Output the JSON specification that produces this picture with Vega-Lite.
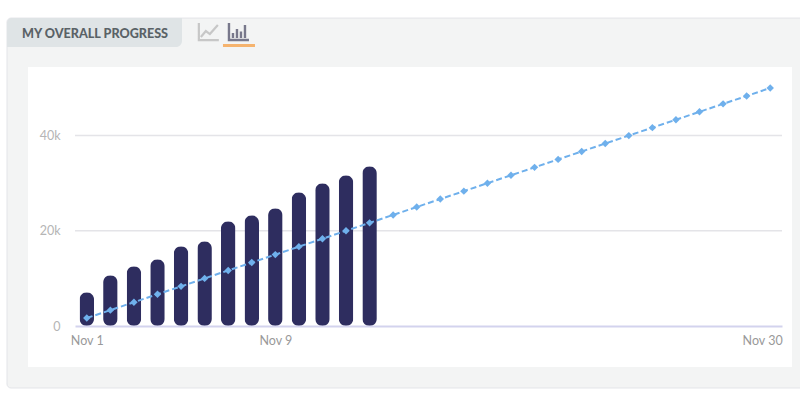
{
  "$schema": "https://vega.github.io/schema/vega-lite/v6.json",
  "width": 707,
  "height": 238,
  "padding": {"left": 75, "top": 88, "right": 18, "bottom": 74},
  "autosize": {"type": "none"},
  "background": "#ffffff",
  "config": {"view": {"stroke": null}, "font": "Lato", "scale": {"continuousPadding": 0}},
  "title": {
    "text": "MY OVERALL PROGRESS",
    "anchor": "start",
    "frame": "group",
    "dx": -53,
    "dy": 23,
    "offset": 0,
    "font": "Lato",
    "fontSize": 12.6,
    "fontWeight": 900,
    "color": "#5a6266"
  },
  "resolve": {"axis": {"x": "independent", "y": "independent"}},
  "data": {
    "values": [
      {"day": 1, "actual": 7080, "target": 1670},
      {"day": 2, "actual": 10650, "target": 3330},
      {"day": 3, "actual": 12540, "target": 5000},
      {"day": 4, "actual": 14010, "target": 6670},
      {"day": 5, "actual": 16740, "target": 8330},
      {"day": 6, "actual": 17790, "target": 10000},
      {"day": 7, "actual": 21990, "target": 11670},
      {"day": 8, "actual": 23250, "target": 13330},
      {"day": 9, "actual": 24720, "target": 15000},
      {"day": 10, "actual": 28080, "target": 16670},
      {"day": 11, "actual": 29970, "target": 18330},
      {"day": 12, "actual": 31650, "target": 20000},
      {"day": 13, "actual": 33540, "target": 21670},
      {"day": 14, "target": 23330},
      {"day": 15, "target": 25000},
      {"day": 16, "target": 26670},
      {"day": 17, "target": 28330},
      {"day": 18, "target": 30000},
      {"day": 19, "target": 31670},
      {"day": 20, "target": 33330},
      {"day": 21, "target": 35000},
      {"day": 22, "target": 36670},
      {"day": 23, "target": 38330},
      {"day": 24, "target": 40000},
      {"day": 25, "target": 41670},
      {"day": 26, "target": 43330},
      {"day": 27, "target": 45000},
      {"day": 28, "target": 46670},
      {"day": 29, "target": 48330},
      {"day": 30, "target": 50000}
    ]
  },
  "layer": [
    {
      "data": {"values": [{}]},
      "mark": {"type": "rect", "fill": "#f3f4f4", "stroke": "#e3e4e8", "strokeWidth": 1, "cornerRadius": 4},
      "encoding": {
        "x": {"datum": -2.385, "type": "quantitative", "scale": {"domain": [0.5, 30.5]}, "axis": null},
        "x2": {"datum": 31.8},
        "y": {"datum": 64690, "type": "quantitative", "scale": {"domain": [0, 50000]}, "axis": null},
        "y2": {"datum": -13022}
      }
    },
    {
      "data": {"values": [{}]},
      "mark": {"type": "rect", "fill": "#ffffff"},
      "encoding": {
        "x": {"datum": -1.494, "type": "quantitative", "scale": {"domain": [0.5, 30.5]}, "axis": null},
        "x2": {"datum": 30.924},
        "y": {"datum": 54398, "type": "quantitative", "scale": {"domain": [0, 50000]}, "axis": null},
        "y2": {"datum": -8611}
      }
    },
    {
      "data": {"values": [{}]},
      "mark": {"type": "rect", "fill": "#dfe4e6", "cornerRadiusTopLeft": 5, "cornerRadiusBottomRight": 6},
      "encoding": {
        "x": {"datum": -2.385, "type": "quantitative", "scale": {"domain": [0.5, 30.5]}, "axis": null},
        "x2": {"datum": 5.04},
        "y": {"datum": 64690, "type": "quantitative", "scale": {"domain": [0, 50000]}, "axis": null},
        "y2": {"datum": 58598}
      }
    },
    {
      "data": {"values": [{}]},
      "mark": {"type": "rect", "fill": "#f5b36e"},
      "encoding": {
        "x": {"datum": 6.779, "type": "quantitative", "scale": {"domain": [0.5, 30.5]}, "axis": null},
        "x2": {"datum": 8.137},
        "y": {"datum": 59228, "type": "quantitative", "scale": {"domain": [0, 50000]}, "axis": null},
        "y2": {"datum": 58598}
      }
    },
    {
      "data": {"values": [{}]},
      "mark": {
        "type": "point",
        "filled": false,
        "size": 400,
        "stroke": "#b5b5b5",
        "strokeWidth": 2.2,
        "shape": "M-1,-0.9 L-1,0.8 L1,0.8 M-0.8,0.5 L-0.3,-0.1 L0.1,0.2 L0.9,-0.7"
      },
      "encoding": {
        "x": {"datum": 6.18, "type": "quantitative", "scale": {"domain": [0.5, 30.5]}, "axis": null},
        "y": {"datum": 61749, "type": "quantitative", "scale": {"domain": [0, 50000]}, "axis": null}
      }
    },
    {
      "data": {"values": [{}]},
      "mark": {
        "type": "point",
        "filled": false,
        "size": 400,
        "stroke": "#45455f",
        "strokeWidth": 2.4,
        "shape": "M-1,-0.9 L-1,0.8 L1,0.8 M-0.6,0.6 L-0.6,0.1 M-0.2,0.6 L-0.2,-0.3 M0.2,0.6 L0.2,-0.05 M0.6,0.6 L0.6,-0.7"
      },
      "encoding": {
        "x": {"datum": 7.458, "type": "quantitative", "scale": {"domain": [0.5, 30.5]}, "axis": null},
        "y": {"datum": 61749, "type": "quantitative", "scale": {"domain": [0, 50000]}, "axis": null}
      }
    },
    {
      "data": {"values": [{"tick": 20000}, {"tick": 40000}]},
      "mark": {"type": "rule", "stroke": "#e4e4e8", "strokeWidth": 1.5},
      "encoding": {
        "x": {"datum": 0.5, "type": "quantitative", "scale": {"domain": [0.5, 30.5]}, "axis": null},
        "x2": {"datum": 30.5},
        "y": {"field": "tick", "type": "quantitative", "scale": {"domain": [0, 50000]}, "axis": null}
      }
    },
    {
      "mark": {"type": "bar", "size": 14.5, "cornerRadius": 7.25, "fill": "#2e2d5f"},
      "encoding": {
        "x": {
          "field": "day",
          "type": "quantitative",
          "scale": {"domain": [0.5, 30.5]},
          "axis": {
            "title": null,
            "values": [1, 9, 30],
            "labelExpr": "'Nov ' + datum.value",
            "labelAlign": {"expr": "datum.value == 30 ? 'right' : 'center'"},
            "labelOffset": {"expr": "datum.value == 30 ? 12 : 0"},
            "labelColor": "#999999",
            "labelFont": "Lato",
            "labelFontSize": 12.5,
            "labelPadding": 8,
            "labelFlush": false,
            "labelOverlap": false,
            "ticks": false,
            "grid": false,
            "domainColor": "#d3d3ee",
            "domainWidth": 2,
            "zindex": 1
          }
        },
        "y": {
          "field": "actual",
          "type": "quantitative",
          "scale": {"domain": [0, 50000]},
          "axis": {
            "title": null,
            "values": [0, 20000, 40000],
            "labelExpr": "datum.value == 0 ? '0' : datum.value / 1000 + 'k'",
            "labelColor": "#b5b5b5",
            "labelFont": "Lato",
            "labelFontSize": 12.5,
            "labelPadding": 15,
            "ticks": false,
            "grid": false,
            "domain": false,
            "zindex": 1
          }
        }
      }
    },
    {
      "mark": {
        "type": "line",
        "stroke": "#6fb0ec",
        "strokeWidth": 2,
        "strokeDash": [6, 3],
        "point": {"shape": "diamond", "filled": true, "fill": "#6fb0ec", "size": 55}
      },
      "encoding": {
        "x": {"field": "day", "type": "quantitative", "scale": {"domain": [0.5, 30.5]}, "axis": null},
        "y": {"field": "target", "type": "quantitative", "scale": {"domain": [0, 50000]}, "axis": null}
      }
    }
  ]
}
